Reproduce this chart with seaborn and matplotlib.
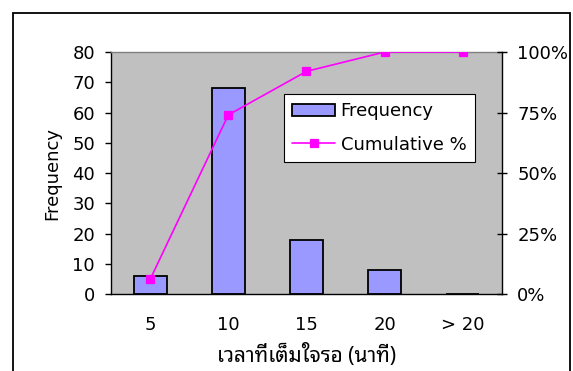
import matplotlib
matplotlib.use("Agg")
import matplotlib.pyplot as plt
import seaborn as sns
import pandas as pd
from matplotlib.patches import Rectangle
from matplotlib.ticker import FixedLocator

categories = ["5", "10", "15", "20", "> 20"]
frequency = [6, 68, 18, 8, 0]
cumulative_pct = [6, 74, 92, 100, 100]
y_ticks = [0, 10, 20, 30, 40, 50, 60, 70, 80]
pct_ticks = [0, 25, 50, 75, 100]

sns.set_style("white")
plt.rcParams['font.family'] = ['DejaVu Sans', 'Noto Sans Thai Looped']
plt.rcParams['text.color'] = 'black'
plt.rcParams['axes.labelcolor'] = 'black'
plt.rcParams['xtick.color'] = 'black'
plt.rcParams['ytick.color'] = 'black'

df = pd.DataFrame({"cat": categories, "freq": frequency, "cum": cumulative_pct})

fig = plt.figure(figsize=(5.73, 3.71), dpi=100)
ax = fig.add_axes([0.1937, 0.2075, 0.6823, 0.6523])
ax.set_facecolor("#C0C0C0")

sns.barplot(data=df, x="cat", y="freq", ax=ax, color="#9999FF", width=0.42,
            edgecolor="black", linewidth=1.3, saturation=1, label="Frequency")
if ax.get_legend() is not None:
    ax.get_legend().remove()
ax.set_xlim(-0.5, 4.5)
ax.set_ylim(0, 80)
ax.set_yticks(y_ticks)
ax.tick_params(axis="y", direction="out", length=4.5, width=1, labelsize=13, pad=7, color="black")
ax.tick_params(axis="x", which="major", length=0, labelsize=13, pad=16)
ax.xaxis.set_minor_locator(FixedLocator([-0.5, 0.5, 1.5, 2.5, 3.5, 4.5]))
ax.tick_params(axis="x", which="minor", direction="inout", length=8, width=1, color="black")
ax.set_xlabel("เวลาที่เต็มใจรอ (นาที)", fontsize=15, labelpad=7,
              family=['Noto Sans Thai Looped', 'DejaVu Sans'])
ax.set_ylabel("Frequency", fontsize=13, labelpad=8)
for side in ["left", "bottom"]:
    ax.spines[side].set_color("black")
    ax.spines[side].set_linewidth(1)
ax.spines["top"].set_color("#808080")
ax.spines["top"].set_linewidth(1)
ax.spines["right"].set_visible(False)

ax2 = ax.twinx()
sns.pointplot(data=df, x="cat", y="cum", ax=ax2, color="#FF00FF", markers="s",
              linestyles="-", markersize=6, linewidth=1.2, label="Cumulative %")
ax2.set_xlim(-0.5, 4.5)
ax2.set_ylim(0, 100)
ax2.set_yticks(pct_ticks)
ax2.set_yticklabels([f"{t}%" for t in pct_ticks])
ax2.set_ylabel("")
ax2.tick_params(axis="y", direction="inout", length=7, width=1, labelsize=13, pad=7.5, color="black")
for side in ["left", "bottom", "top"]:
    ax2.spines[side].set_visible(False)
ax2.spines["right"].set_color("black")
ax2.spines["right"].set_linewidth(1)

h1, l1 = ax.get_legend_handles_labels()
h2, l2 = ax2.get_legend_handles_labels()
leg = ax2.legend(h1 + h2, l1 + l2, loc="upper left", bbox_to_anchor=(0.442, 0.826),
                 borderaxespad=0, fontsize=13, frameon=True, fancybox=False, framealpha=1,
                 edgecolor="black", borderpad=0.45, handlelength=2.4,
                 handletextpad=0.3, labelspacing=0.85)
leg.get_frame().set_linewidth(0.8)

fig.patches.append(Rectangle((13 / 573, -0.05), (570 - 13) / 573, 1 - 13 / 371 + 0.05,
                             transform=fig.transFigure, fill=False,
                             edgecolor="black", linewidth=1.3))

fig.savefig("out.png", dpi=100)
